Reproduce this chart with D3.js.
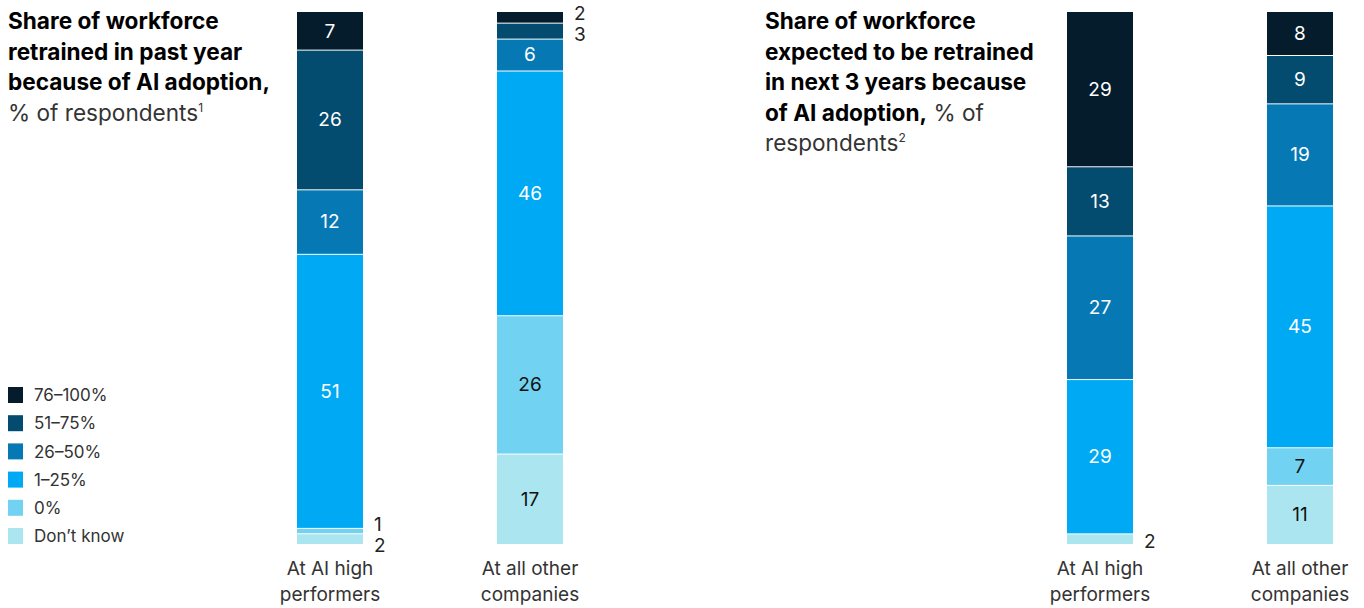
<!DOCTYPE html>
<html><head><meta charset="utf-8">
<script src="https://cdn.jsdelivr.net/npm/d3@7"></script>
<style>
body{margin:0;background:#fff;}
svg{display:block;font-family:Inter, "Noto Sans", sans-serif;}
</style></head>
<body><svg id="chart" width="1364" height="608"></svg>
<script>
const seriesKeys = ["76–100%", "51–75%", "26–50%", "1–25%", "0%", "Don't know"];
const legendLabels = ["76–100%", "51–75%", "26–50%", "1–25%", "0%", "Don’t know"];
const colors = ["#051c2c", "#034b6f", "#0679b4", "#00a9f4", "#71d2f1", "#abe5f0"];
const categories = ["At AI high performers", "At all other companies"];
const categoryLines = [["At AI high", "performers"], ["At all other", "companies"]];
// Panel 1: retrained in past year
const pastYear76 = [7, 2];
const pastYear51 = [26, 3];
const pastYear26 = [12, 6];
const pastYear1 = [51, 46];
const pastYear0 = [1, 26];
const pastYearDK = [2, 17];
// Panel 2: expected in next 3 years
const next76 = [29, 8];
const next51 = [13, 9];
const next26 = [27, 19];
const next1 = [29, 45];
const next0 = [0, 7];
const nextDK = [2, 11];

const panels = [
  {values: [pastYear76, pastYear51, pastYear26, pastYear1, pastYear0, pastYearDK], xr: [330, 530],
   titleX: 8, title: [["Share of workforce", ""], ["retrained in past year", ""], ["because of AI adoption,", ""], ["", "% of respondents", "1"]]},
  {values: [next76, next51, next26, next1, next0, nextDK], xr: [1100, 1300],
   titleX: 765, title: [["Share of workforce", ""], ["expected to be retrained", ""], ["in next 3 years because", ""], ["of AI adoption,", " % of"], ["", "respondents", "2"]]}
];

const svg = d3.select("#chart");
const barW = 66, plotTop = 12, plotBottom = 544;
const y = d3.scaleLinear().domain([0, 1]).range([plotBottom, plotTop]);
const color = d3.scaleOrdinal().domain(seriesKeys).range(colors);
const stackOrder = seriesKeys.slice().reverse();

panels.forEach(p => {
  const x = d3.scalePoint().domain(categories).range(p.xr);
  const rows = categories.map((c, i) => {
    const r = {cat: c};
    seriesKeys.forEach((k, j) => r[k] = p.values[j][i]);
    return r;
  });
  const stacked = d3.stack().keys(stackOrder).offset(d3.stackOffsetExpand)(rows);
  const g = svg.append("g");
  stacked.forEach(layer => {
    g.selectAll(null).data(layer.filter(d => d.data[layer.key] > 0)).join("rect")
      .attr("x", d => x(d.data.cat) - barW / 2)
      .attr("y", d => y(d[1]) + (d[1] >= 0.999 ? 0 : 1))
      .attr("width", barW)
      .attr("height", d => Math.max(0.5, y(d[0]) - y(d[1]) - (d[1] >= 0.999 ? 0 : 1)))
      .attr("fill", color(layer.key));
  });
  categories.forEach((c, i) => {
    const outside = [];
    stacked.forEach(layer => {
      const d = layer[i];
      const v = d.data[layer.key];
      if (v <= 0) return;
      const cy = (y(d[0]) + y(d[1])) / 2;
      const dark = ["76–100%", "51–75%", "26–50%", "1–25%"].includes(layer.key);
      if (v >= 5) {
        g.append("text").attr("x", x(c)).attr("y", cy).attr("dy", "0.36em")
          .attr("text-anchor", "middle").attr("font-size", 19)
          .attr("fill", dark ? "#fff" : "#111").text(v);
      } else outside.push({v, cy});
    });
    outside.sort((a, b) => a.cy - b.cy);
    const sep = 21;
    if (outside.length > 1) {
      const mean = d3.mean(outside, o => o.cy);
      const n = outside.length;
      outside.forEach((o, k) => o.ly = mean + (k - (n - 1) / 2) * sep);
    } else outside.forEach(o => o.ly = o.cy + 2);
    outside.forEach(o => {
      g.append("text").attr("x", x(c) + barW / 2 + 11).attr("y", o.ly).attr("dy", "0.36em")
        .attr("font-size", 19).attr("fill", "#222").text(o.v);
    });
    const t = g.append("text").attr("x", x(c)).attr("y", 575).attr("text-anchor", "middle")
      .attr("font-size", 19).attr("fill", "#333");
    categoryLines[i].forEach((ln, k) => t.append("tspan").attr("x", x(c)).attr("dy", k ? 26 : 0).text(ln));
  });
  p.title.forEach((ln, k) => {
    const t = svg.append("text").attr("x", p.titleX).attr("y", 29 + k * 30.5).attr("font-size", 22.6);
    if (ln[0]) t.append("tspan").attr("font-weight", 700).attr("fill", "#000").text(ln[0]);
    if (ln[1]) t.append("tspan").attr("font-weight", 400).attr("fill", "#333").text(ln[1]);
    if (ln[2]) t.append("tspan").attr("font-size", 12).attr("dy", -9).attr("fill", "#333").text(ln[2]);
  });
});

const leg = svg.append("g").attr("transform", "translate(8,387)");
seriesKeys.forEach((k, i) => {
  const row = leg.append("g").attr("transform", `translate(0,${i * 28.2})`);
  row.append("rect").attr("width", 15).attr("height", 16).attr("fill", color(k));
  row.append("text").attr("x", 26).attr("y", 8).attr("dy", "0.36em").attr("font-size", 17)
    .attr("fill", "#333").text(legendLabels[i]);
});
</script></body></html>
